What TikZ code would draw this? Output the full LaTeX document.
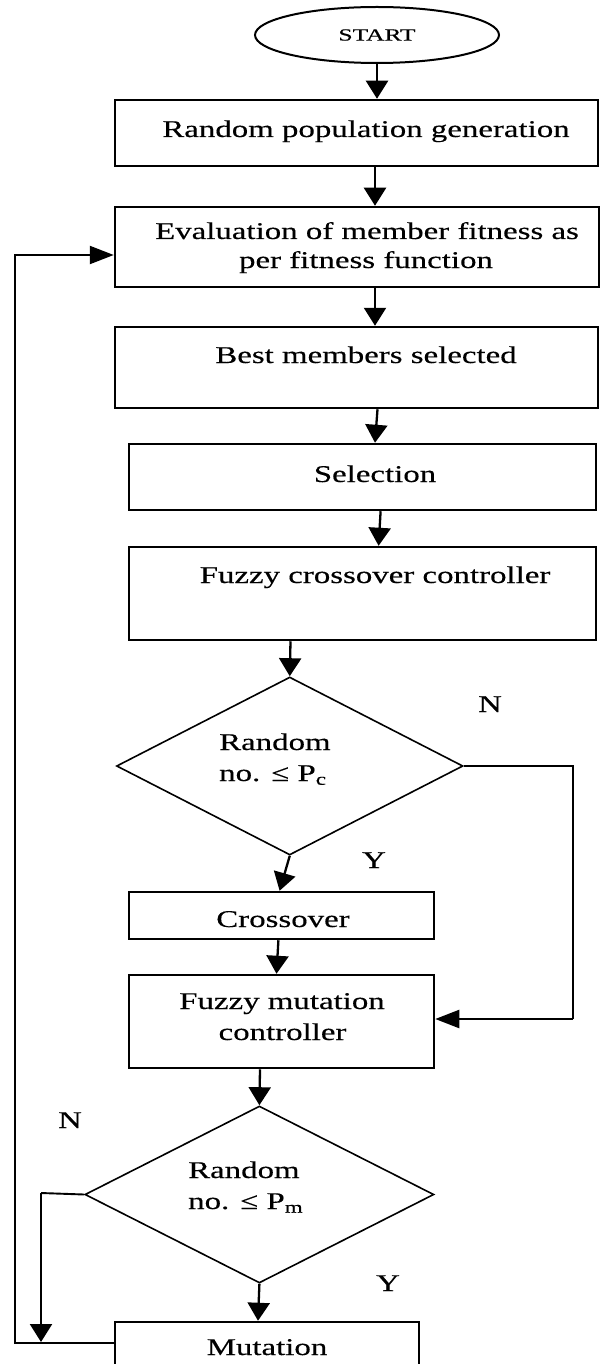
\documentclass[tikz,border=0pt]{standalone}
\usepackage{fontspec}
\setmainfont{Liberation Serif}[FakeStretch=1.37,FakeBold=0.35]
\newfontfamily\startfont{Liberation Serif}[FakeStretch=1.5,FakeBold=0.35]
\usetikzlibrary{arrows.meta,shapes.geometric}

\begin{document}
\begin{tikzpicture}[x=1pt,y=-1pt,
  box/.style={draw,rectangle,line width=2.5pt,inner sep=0pt},
  decision/.style={draw,diamond,line width=1.6pt,inner sep=0pt},
  txt/.style={font=\fontsize{24}{29}\selectfont,inner sep=0pt,anchor=base},
  ltxt/.style={txt,anchor=base west},
  flow/.style={line width=2.3pt,-{Triangle[width=22pt,length=18pt]}},
  sideflow/.style={line width=2.3pt,-{Triangle[width=18pt,length=24pt]}},
  branch/.style={line width=1.9pt}]

% page frame
\fill[white] (0,0) rectangle (609,1364);
\useasboundingbox (0,0) rectangle (609,1364);
\clip (0,0) rectangle (609,1364);

% terminal
\node[ellipse,draw,line width=2pt,minimum width=244pt,minimum height=56pt,
      inner sep=0pt,font=\startfont\fontsize{17}{20}\selectfont] (start) at (377,35) {START};

% process boxes
\node[box,minimum width=483pt,minimum height=66pt] (b1) at (356.5,133) {};
\node[box,minimum width=484pt,minimum height=80pt] (b2) at (357,247) {};
\node[box,minimum width=483pt,minimum height=81pt] (b3) at (356.5,367.5) {};
\node[box,minimum width=467pt,minimum height=66pt] (b4) at (362.5,477) {};
\node[box,minimum width=467pt,minimum height=93pt] (b5) at (362.5,593.5) {};
\node[decision,minimum width=346.5pt,minimum height=178pt] (d1) at (289.75,766) {};
\node[box,minimum width=305pt,minimum height=47pt] (cx) at (281.5,915.5) {};
\node[box,minimum width=305pt,minimum height=93pt] (b6) at (281.5,1021.5) {};
\node[decision,minimum width=349pt,minimum height=177pt] (d2) at (259.4,1194.5) {};
\node[box,minimum width=304pt,minimum height=80pt] (mut) at (266.8,1362) {};

% box texts
\node[txt] (t1) at (366,137) {Random population generation};
\node[txt] (t2a) at (367,239) {Evaluation of member fitness as};
\node[txt] (t2b) at (366,268) {per fitness function};
\node[txt] (t3) at (366,363) {Best members selected};
\node[txt] (t4) at (375,482) {Selection};
\node[txt] (t5) at (375,583) {Fuzzy crossover controller};
\node[ltxt] (t6a) at (219,750) {Random};
\node[ltxt] (t6b) at (219,781) {no. ≤ P\textsubscript{c}};
\node[txt] (t7) at (283,927) {Crossover};
\node[txt] (t8a) at (282,1009) {Fuzzy mutation};
\node[txt] (t8b) at (282.5,1040) {controller};
\node[ltxt] (t9a) at (188,1178) {Random};
\node[ltxt] (t9b) at (188,1209) {no. ≤ P\textsubscript{m}};
\node[txt] (t10) at (267,1355) {Mutation};

% branch labels
\node[txt] (n1) at (490,712) {N};
\node[txt] (y1) at (374,868) {Y};
\node[txt] (n2) at (70,1128) {N};
\node[txt] (y2) at (388,1291) {Y};

% main flow
\draw[flow] (start.south) -- (start.south |- b1.north);
\draw[flow] (375,0 |- b1.south) -- (375,0 |- b2.north);
\draw[flow] (375,0 |- b2.south) -- (375,0 |- b3.north);
\draw[flow] (377.5,0 |- b3.south) -- (375,0 |- b4.north);
\draw[flow] (380.6,0 |- b4.south) -- (378.6,0 |- b5.north);
\draw[flow] (290.5,0 |- b5.south) -- (d1.north);
\draw[flow] (d1.south) -- (279.6,0 |- cx.north);
\draw[flow] (278.4,0 |- cx.south) -- (276.5,0 |- b6.north);
\draw[flow] (260,0 |- b6.south) -- (d2.north);
\draw[flow] (d2.south) -- (258,0 |- mut.north);

% "N" branch of the crossover test
\coordinate (nr) at (573,1019);
\draw[branch] (d1.east) -| (nr);
\draw[sideflow] (nr) -- (b6.east |- nr);

% "N" branch of the mutation test
\coordinate (nlb) at (41,1193);
\coordinate (nl) at (41,1342);
\draw[branch] (d2.west) -- (nlb);
\draw[flow] (nlb) -- (nl);

% return loop to evaluation
\coordinate (lb) at (15,1343);
\coordinate (lt) at (15,255);
\draw[sideflow] (mut.west |- lb) -- (lb) -- (lt) -- (b2.west |- lt);
\end{tikzpicture}
\end{document}
